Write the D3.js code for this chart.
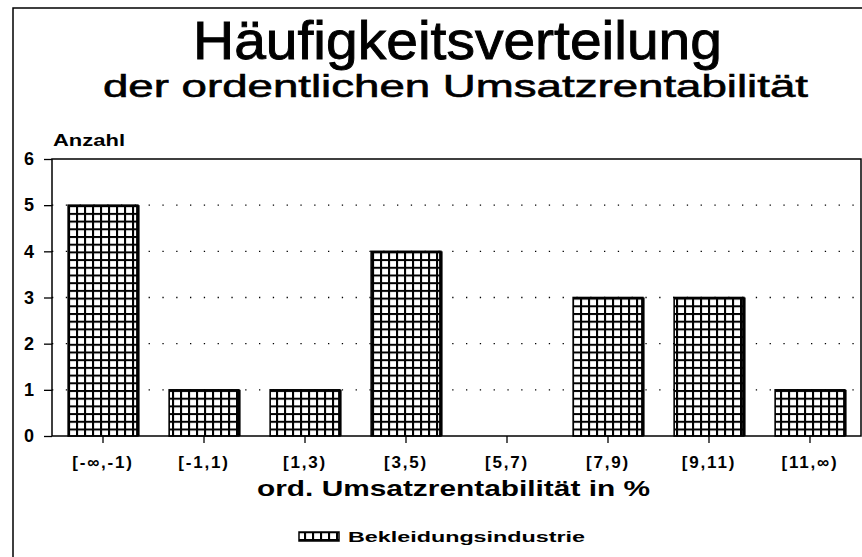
<!DOCTYPE html>
<html>
<head>
<meta charset="utf-8">
<script src="https://cdn.jsdelivr.net/npm/d3@7"></script>
<style>
  body { margin: 0; background: #fff; }
  text { font-family: "Liberation Sans", Arial, sans-serif; fill: #000; }
</style>
</head>
<body>
<div id="chart"></div>
<script>
// chart data
let categories = ["[-\u221E,-1)", "[-1,1)", "[1,3)", "[3,5)", "[5,7)", "[7,9)", "[9,11)", "[11,\u221E)"];
let counts = [5, 1, 1, 4, 0, 3, 3, 1];
let yTicks = [0, 1, 2, 3, 4, 5, 6];
let gridValues = [1, 2, 3, 4, 5];
let seriesName = "Bekleidungsindustrie";

let svgWidth = 862;
let svgHeight = 557;

// plot area
let margin = { top: 159, right: 1, bottom: 121, left: 52 };
let width = svgWidth - margin.left - margin.right;
let height = svgHeight - margin.top - margin.bottom;

let svg = d3.select("#chart")
  .append("svg")
  .attr("width", svgWidth)
  .attr("height", svgHeight);

// hatch pattern for bars
let defs = svg.append("defs");
let pat = defs.append("pattern")
  .attr("id", "grid")
  .attr("patternUnits", "userSpaceOnUse")
  .attr("width", 8)
  .attr("height", 7.7);
pat.append("rect").attr("width", 8).attr("height", 7.7).attr("fill", "#fff");
pat.append("rect").attr("x", 0).attr("y", 0).attr("width", 2.1).attr("height", 7.7).attr("fill", "#000");
pat.append("rect").attr("x", 0).attr("y", 0).attr("width", 8).attr("height", 2).attr("fill", "#000");

// outer frame
svg.append("path")
  .attr("d", `M13,${svgHeight + 2} L13,8 L${svgWidth + 2},8`)
  .attr("fill", "none")
  .attr("stroke", "#000")
  .attr("stroke-width", 1.5);

// titles
svg.append("text")
  .attr("x", 193)
  .attr("y", 59)
  .attr("font-size", 54)
  .attr("textLength", 529)
  .attr("lengthAdjust", "spacingAndGlyphs")
  .attr("stroke", "#000")
  .attr("stroke-width", 0.9)
  .text("Häufigkeitsverteilung");

svg.append("text")
  .attr("x", 103)
  .attr("y", 97)
  .attr("font-size", 31)
  .attr("textLength", 705)
  .attr("lengthAdjust", "spacingAndGlyphs")
  .attr("stroke", "#000")
  .attr("stroke-width", 0.6)
  .text("der ordentlichen Umsatzrentabilität");

let chartGroup = svg.append("g")
  .attr("transform", `translate(${margin.left}, ${margin.top})`);

let xScale = d3.scaleBand()
  .domain(categories)
  .range([0, width])
  .paddingInner(0.31)
  .paddingOuter(0.16);

let yScale = d3.scaleLinear()
  .domain([0, 6])
  .range([height, 0]);

// dotted gridlines
chartGroup.selectAll(".gridline")
  .data(gridValues)
  .enter()
  .append("line")
  .attr("x1", 0)
  .attr("x2", width)
  .attr("y1", d => yScale(d))
  .attr("y2", d => yScale(d))
  .attr("stroke", "#000")
  .attr("stroke-width", 1.3)
  .attr("stroke-dasharray", "1.3,12.5");

// bars
let bars = chartGroup.selectAll(".bar")
  .data(counts.map((c, i) => ({ cat: categories[i], value: c })).filter(d => d.value > 0))
  .enter()
  .append("g");

bars.append("rect")
  .attr("x", d => xScale(d.cat))
  .attr("y", d => yScale(d.value))
  .attr("width", xScale.bandwidth())
  .attr("height", d => height - yScale(d.value))
  .attr("fill", "url(#grid)")
  .attr("stroke", "#000")
  .attr("stroke-width", 1.6);

// heavier right edge
bars.append("line")
  .attr("x1", d => xScale(d.cat) + xScale.bandwidth())
  .attr("x2", d => xScale(d.cat) + xScale.bandwidth())
  .attr("y1", d => yScale(d.value))
  .attr("y2", height)
  .attr("stroke", "#000")
  .attr("stroke-width", 3.5);

// plot frame
chartGroup.append("rect")
  .attr("x", 0)
  .attr("y", 0)
  .attr("width", width)
  .attr("height", height)
  .attr("fill", "none")
  .attr("stroke", "#000")
  .attr("stroke-width", 1.5);

// y axis
let leftAxis = d3.axisLeft(yScale)
  .tickValues(yTicks)
  .tickSize(8)
  .tickPadding(10)
  .tickFormat(d3.format("d"));

let yAxis = chartGroup.append("g").call(leftAxis);
yAxis.select(".domain").remove();
yAxis.selectAll("line").attr("stroke-width", 1.3);
yAxis.selectAll("text")
  .attr("font-size", 18)
  .attr("font-weight", "bold")
  .attr("font-family", "'Liberation Sans', Arial, sans-serif");

// x axis
let bottomAxis = d3.axisBottom(xScale)
  .tickSize(7)
  .tickPadding(13);

let xAxis = chartGroup.append("g")
  .attr("transform", `translate(0, ${height})`)
  .call(bottomAxis);
xAxis.select(".domain").remove();
xAxis.selectAll("line").attr("stroke-width", 1.3);
xAxis.selectAll("text")
  .attr("font-size", 17)
  .attr("font-weight", "bold")
  .attr("letter-spacing", "1.8px")
  .attr("font-family", "'Liberation Sans', Arial, sans-serif");

// axis labels
svg.append("text")
  .attr("x", 53)
  .attr("y", 146)
  .attr("font-size", 16)
  .attr("font-weight", "bold")
  .attr("textLength", 72)
  .attr("lengthAdjust", "spacingAndGlyphs")
  .text("Anzahl");

svg.append("text")
  .attr("x", 257)
  .attr("y", 496)
  .attr("font-size", 22)
  .attr("font-weight", "bold")
  .attr("textLength", 393)
  .attr("lengthAdjust", "spacingAndGlyphs")
  .text("ord. Umsatzrentabilität in %");

// legend
svg.append("rect")
  .attr("x", 299)
  .attr("y", 532)
  .attr("width", 40)
  .attr("height", 9)
  .attr("fill", "url(#grid)")
  .attr("stroke", "#000")
  .attr("stroke-width", 1.5);

svg.append("text")
  .attr("x", 348)
  .attr("y", 542)
  .attr("font-size", 15)
  .attr("font-weight", "bold")
  .attr("textLength", 237)
  .attr("lengthAdjust", "spacingAndGlyphs")
  .text(seriesName);
</script>
</body>
</html>
